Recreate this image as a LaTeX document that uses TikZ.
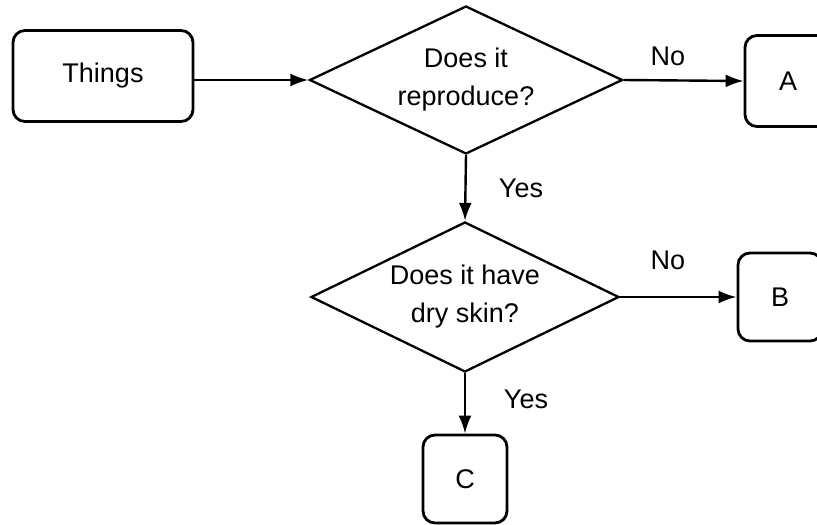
\documentclass[tikz,border=0pt]{standalone}
\usepackage{fontspec}
\setmainfont{Liberation Sans}
\usetikzlibrary{shapes.geometric,arrows.meta}
\tikzset{
  box/.style={draw, line width=2.8pt, rounded corners=12pt, inner sep=0pt, align=center},
  decision/.style={draw, diamond, aspect=2.1, line width=2.3pt, inner sep=0pt, align=center},
  flow/.style={line width=2.4pt, -{Latex[length=18pt,width=13pt]}},
  lbl/.style={inner sep=0pt},
  every node/.style={font=\fontsize{27}{38}\selectfont}
}
\begin{document}
\begin{tikzpicture}[x=1pt,y=-1pt]
\useasboundingbox (0,0) rectangle (817,525);
\clip (0,0) rectangle (817,525);
\node[box, minimum width=180pt, minimum height=91pt] (things) at (103,76) {Things};
\node[decision, minimum width=313pt, minimum height=148pt] (d1) at (466,80) {Does it\\reproduce?};
\node[box, minimum width=86pt, minimum height=91pt] (A) at (788,81) {A};
\node[decision, minimum width=308pt, minimum height=150pt] (d2) at (465,297) {Does it have\\dry skin?};
\node[box, minimum width=84pt, minimum height=88pt] (B) at (780,297) {B};
\node[box, minimum width=84pt, minimum height=88pt] (C) at (465,479) {C};
\draw[flow] (things.east |- d1.west) -- (d1.west);
\draw[flow] (d1.east) -- (A.west);
\draw[flow] (d1.south) -- (d2.north);
\draw[flow] (d2.east) -- (B.west);
\draw[flow] (d2.south) -- (C.north);
\node[lbl] (no1) at (668,56) {No};
\node[lbl] (yes1) at (521,188) {Yes};
\node[lbl] (no2) at (668,260) {No};
\node[lbl] (yes2) at (526,399) {Yes};
\end{tikzpicture}
\end{document}
